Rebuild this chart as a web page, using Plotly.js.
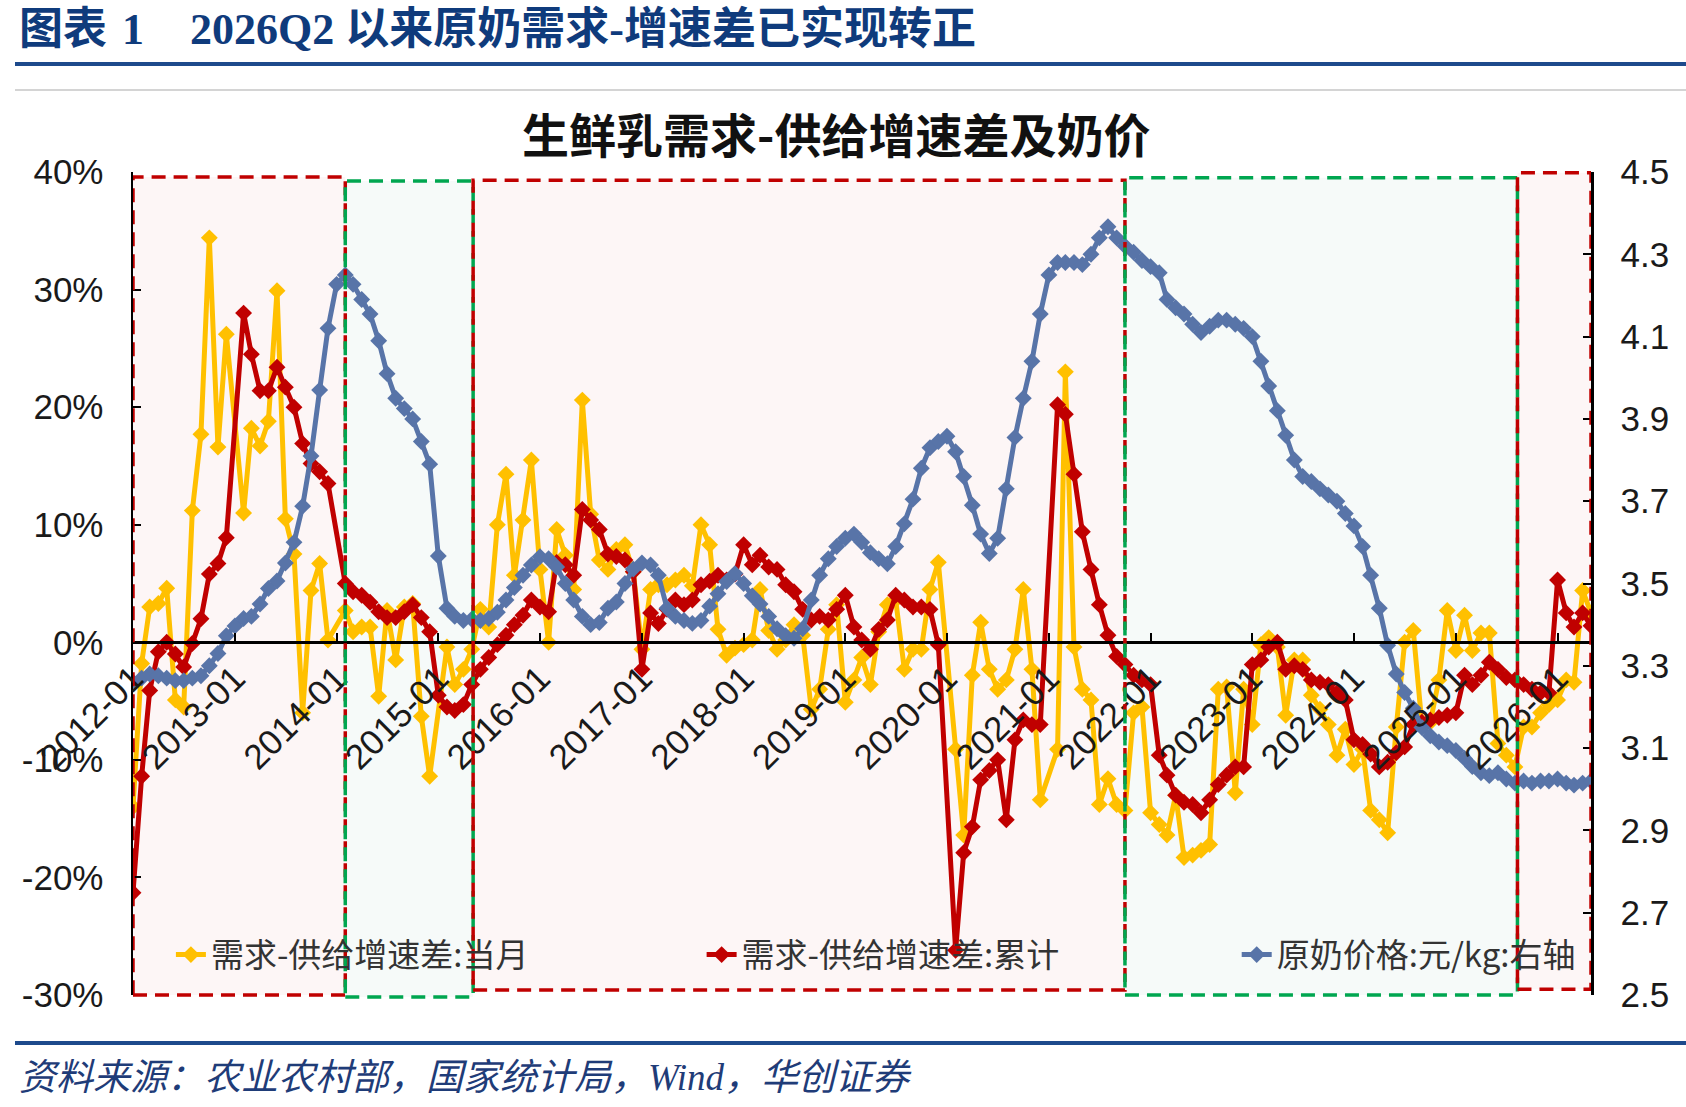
<!DOCTYPE html>
<html>
<head>
<meta charset="utf-8">
<script src="https://cdn.plot.ly/plotly-3.0.1.min.js"></script>
<style>
  html, body { margin: 0; padding: 0; background: #fff; }
  #page { position: relative; width: 1686px; height: 1107px; overflow: hidden; background: #fff; }
  #chart { position: absolute; left: 0; top: 0; width: 1686px; height: 1107px; }
  .head { position: absolute; top: 5px; font-family: "Liberation Serif", "Noto Sans CJK SC", serif; font-weight: bold; font-size: 44px; color: #0f3b7c; line-height: 50px; white-space: nowrap; }
  .rule { position: absolute; left: 15px; right: 0; }
  #source { position: absolute; left: 19px; top: 1054px; font-family: "Liberation Serif", "Noto Sans CJK SC", serif; font-style: italic; font-size: 37px; color: #1f3c78; line-height: 48px; white-space: nowrap; }
</style>
</head>
<body>
<div id="page">
  <div id="chart"></div>
  <div class="head" style="left:19px">图表</div>
  <div class="head" style="left:122px">1</div>
  <div class="head" style="left:190px">2026Q2 以来原奶需求-增速差已实现转正</div>
  <div class="rule" style="top:62px;height:4px;background:#1d4a8c"></div>
  <div class="rule" style="top:89px;height:2px;background:#d4d4d4"></div>
  <div class="rule" style="top:1041px;height:4px;background:#1d4a8c"></div>
  <div id="source">资料来源：农业农村部，国家统计局，Wind，华创证券</div>
</div>
<script>
// 需求-供给增速差:当月 (%), monthly from 2012-01
const monthlyGap = [
  -14.0, -1.8, 3.0, 3.3, 4.6, -4.9, -5.5, 11.2, 17.7, 34.4, 16.6, 26.2,      // 2012
  null, 11.0, 18.2, 16.7, 18.8, 29.9, 10.5, 7.5, -6.0, 4.4, 6.7, 0.2,        // 2013
  null, 2.7, 0.9, 1.3, 1.3, -4.6, 2.7, -1.5, 3.0, 3.3, -6.3, -11.4,          // 2014
  null, -0.4, -3.6, -2.3, -0.6, 2.8, 1.3, 10.0, 14.3, 5.7, 10.4, 15.5,       // 2015
  6.2, 0.0, 9.6, 7.4, 4.5, 20.6, 10.9, 7.0, 6.2, 7.9, 8.3, 6.0,              // 2016
  -0.6, 4.5, 4.9, 4.9, 5.3, 5.7, 4.8, 10.0, 8.3, 1.1, -1.1, -0.5,            // 2017
  -0.2, 0.2, 4.5, 1.0, -0.6, 0.2, 1.5, 0.6, -5.7, -4.0, 1.1, 3.2,            // 2018
  -5.1, -3.2, -1.3, -3.6, 0.9, 3.2, 3.6, -2.3, -0.6, -0.6, 4.5, 6.8,         // 2019
  null, -9.1, -16.4, -2.8, 1.7, -2.3, -4.0, -3.2, -0.6, 4.5, -2.3, -13.4,    // 2020
  null, -9.1, 23.0, -0.4, -4.0, -4.9, -13.8, -11.6, -13.8, -14.3, -6.0, -5.5, // 2021
  -14.5, -15.5, -16.4, -13.0, -18.3, -18.1, -17.7, -17.2, -4.0, -3.8, -12.8, -4.0, // 2022
  -7.0, -0.2, 0.4, -0.4, -6.2, -1.5, -1.5, -4.5, -5.7, -7.0, -9.6, -7.4,     // 2023
  -10.4, -9.1, -14.3, -15.1, -16.2, -7.2, 0.0, 1.0, -7.0, -6.8, -3.2, 2.7,   // 2024
  -0.7, 2.3, -0.7, 0.8, 0.8, -8.6, -9.6, -10.6, -7.2, -7.2, -6.0, -5.3,      // 2025
  -4.9, -3.2, -3.4, 4.4, 2.5                                                  // 2026
];

// 需求-供给增速差:累计 (%)
const cumulativeGap = [
  -21.3, -11.4, -4.1, -0.8, 0.0, -1.0, -2.1, -0.1, 2.0, 5.8, 6.7, 8.9,       // 2012
  null, 28.0, 24.5, 21.4, 21.4, 23.4, 21.7, 20.0, 16.9, 15.2, 14.5, 13.5,    // 2013
  null, 5.0, 4.3, 4.0, 3.4, 2.6, 2.1, 2.1, 2.6, 3.2, 2.1, 0.9,               // 2014
  -4.5, -5.5, -5.8, -5.3, -3.6, -2.3, -1.3, -0.2, 0.6, 1.5, 2.3, 3.6,        // 2015
  3.0, 2.6, 6.8, 6.6, 5.7, 11.3, 10.4, 9.6, 7.5, 7.3, 7.0, 6.0,              // 2016
  -2.3, 2.5, 1.6, 2.8, 3.6, 3.2, 3.6, 4.9, 5.2, 5.7, 5.3, 5.8,               // 2017
  8.3, 6.6, 7.4, 6.4, 6.2, 4.9, 4.3, 2.8, 1.9, 2.2, 1.9, 2.8,                // 2018
  4.0, 1.3, 0.2, -0.6, 1.1, 1.9, 4.0, 3.6, 3.0, 3.0, 2.8, -0.2,              // 2019
  null, -26.2, -17.9, -15.7, -11.7, -10.9, -10.0, -15.1, -8.3, -6.6, -7.0, -7.0, // 2020
  null, 20.2, 19.4, 14.3, 9.4, 6.2, 3.2, 0.6, -1.2, -1.9, -2.8, -3.2,        // 2021
  -3.6, -9.6, -11.3, -13.0, -13.6, -13.8, -14.5, -13.4, -12.1, -11.3, -10.6, -10.6, // 2022
  -1.9, -1.5, -0.4, 0.0, -2.3, -2.0, -2.3, -3.2, -3.4, -3.6, -4.3, -4.9,     // 2023
  -8.3, -8.7, -9.5, -10.6, -10.2, -9.4, -8.9, -7.0, -6.8, -6.6, -6.4, -6.2,  // 2024
  -6.0, -2.8, -3.6, -2.8, -1.7, -2.3, -3.0, -3.2, -3.6, -4.0, -4.3, -4.3,    // 2025
  5.3, 2.5, 1.3, 2.5, 1.4                                                     // 2026
];

// 原奶价格:元/kg (右轴)
const milkPrice = [
  3.26, 3.27, 3.28, 3.276, 3.27, 3.264, 3.264, 3.27, 3.276, 3.30, 3.33, 3.373,   // 2012
  3.397, 3.415, 3.42, 3.45, 3.488, 3.506, 3.55, 3.60, 3.688, 3.81, 3.97, 4.12,   // 2013
  4.227, 4.25, 4.227, 4.19, 4.155, 4.09, 4.01, 3.95, 3.925, 3.90, 3.845, 3.79,   // 2014
  3.567, 3.44, 3.42, 3.41, 3.413, 3.41, 3.415, 3.43, 3.46, 3.49, 3.52, 3.545,    // 2015
  3.565, 3.56, 3.54, 3.50, 3.46, 3.42, 3.40, 3.405, 3.44, 3.455, 3.50, 3.535,    // 2016
  3.55, 3.545, 3.52, 3.44, 3.42, 3.41, 3.403, 3.41, 3.445, 3.475, 3.505, 3.524,  // 2017
  3.50, 3.47, 3.45, 3.42, 3.39, 3.373, 3.367, 3.39, 3.46, 3.52, 3.56, 3.59,      // 2018
  3.61, 3.62, 3.60, 3.575, 3.56, 3.548, 3.59, 3.645, 3.705, 3.78, 3.83, 3.845,   // 2019
  3.858, 3.82, 3.76, 3.69, 3.62, 3.573, 3.61, 3.73, 3.855, 3.95, 4.04, 4.155,    // 2020
  4.25, 4.28, 4.28, 4.28, 4.275, 4.30, 4.34, 4.367, 4.34, 4.32, 4.305, 4.285,    // 2021
  4.27, 4.255, 4.19, 4.17, 4.155, 4.13, 4.11, 4.125, 4.14, 4.14, 4.13, 4.12,     // 2022
  4.10, 4.04, 3.98, 3.92, 3.86, 3.80, 3.76, 3.748, 3.73, 3.715, 3.70, 3.67,      // 2023
  3.64, 3.59, 3.52, 3.44, 3.35, 3.28, 3.235, 3.197, 3.15, 3.13, 3.115, 3.106,    // 2024
  3.094, 3.075, 3.055, 3.04, 3.033, 3.04, 3.025, 3.015, 3.02, 3.015, 3.02, 3.02, // 2025
  3.025, 3.015, 3.01, 3.015, 3.02                                                 // 2026
];

const tickLabels = ['2012-01', '2013-01', '2014-01', '2015-01', '2016-01', '2017-01', '2018-01',
  '2019-01', '2020-01', '2021-01', '2022-01', '2023-01', '2024-01', '2025-01', '2026-01'];
const leftTicks = [-30, -20, -10, 0, 10, 20, 30, 40];
const rightTicks = [2.5, 2.7, 2.9, 3.1, 3.3, 3.5, 3.7, 3.9, 4.1, 4.3, 4.5];

const seriesNames = ['需求-供给增速差:当月', '需求-供给增速差:累计', '原奶价格:元/kg:右轴'];

// month dates for the category axis
const months = milkPrice.map((_, i) => {
  const y = 2012 + Math.floor(i / 12);
  const m = (i % 12) + 1;
  return y + '-' + String(m).padStart(2, '0') + '-01';
});

const YELLOW = '#ffc000', RED = '#c00000', BLUE = '#5874a8';

function lineTrace(name, y, color, legend, yaxis) {
  return {
    type: 'scatter', mode: 'lines+markers', name: name,
    x: months, y: y, yaxis: yaxis, legend: legend,
    connectgaps: true,
    line: {color: color, width: 5},
    marker: {symbol: 'diamond', size: 13, color: color}
  };
}

const data = [
  lineTrace(seriesNames[0], monthlyGap, YELLOW, 'legend', 'y'),
  lineTrace(seriesNames[1], cumulativeGap, RED, 'legend2', 'y'),
  lineTrace(seriesNames[2], milkPrice, BLUE, 'legend3', 'y2')
];

// shaded periods: [start, end, kind, top, bottom] (top/bottom in paper units)
const periods = [
  ['2012-01-01', '2014-02-01', 'red', 0.994, 0.0],
  ['2014-02-01', '2015-05-06', 'green', 0.989, -0.0025],
  ['2015-05-06', '2021-10-01', 'red', 0.990, 0.006],
  ['2021-10-01', '2025-08-10', 'green', 0.993, 0.0],
  ['2025-08-10', '2026-05-01', 'red', 0.999, 0.007]
];

const shapes = [];
periods.forEach(p => {
  const isRed = p[2] === 'red';
  shapes.push({
    type: 'rect', xref: 'x', yref: 'paper', x0: p[0], x1: p[1], y0: p[4], y1: p[3],
    fillcolor: isRed ? '#fdf6f6' : '#f6faf9', line: {width: 0}, layer: 'below'
  });
});
periods.forEach(p => {
  const isRed = p[2] === 'red';
  shapes.push({
    type: 'rect', xref: 'x', yref: 'paper', x0: p[0], x1: p[1], y0: p[4], y1: p[3],
    fillcolor: 'rgba(0,0,0,0)', layer: 'above',
    line: {color: isRed ? '#c00000' : '#00a650', width: 3.5, dash: '14px,8px'}
  });
});

const tickFont = {family: 'Liberation Sans, Arial, sans-serif', size: 35, color: '#1a1a1a'};
const legendBase = {
  orientation: 'h', yanchor: 'middle', xanchor: 'left', y: 0.049,
  bgcolor: 'rgba(0,0,0,0)', borderwidth: 0,
  font: {family: 'Noto Sans CJK SC, sans-serif', size: 33, color: '#333'}
};

const layout = {
  width: 1686, height: 1107,
  margin: {l: 133, r: 95, t: 172, b: 112, pad: 0},
  paper_bgcolor: 'rgba(0,0,0,0)', plot_bgcolor: 'rgba(0,0,0,0)',
  font: {family: 'Liberation Sans, Noto Sans CJK SC, sans-serif', color: '#1a1a1a'},
  showlegend: true,
  legend: Object.assign({}, legendBase, {x: 0.026}),
  legend2: Object.assign({}, legendBase, {x: 0.39}),
  legend3: Object.assign({}, legendBase, {x: 0.757}),
  xaxis: {
    type: 'date', range: ['2012-01-01', '2026-05-01'],
    anchor: 'free', position: 30 / 70,
    tickvals: tickLabels.map(t => t + '-01'), ticktext: tickLabels,
    tickangle: -45, tickfont: tickFont,
    ticks: 'inside', ticklen: 8, tickwidth: 2, tickcolor: '#000',
    showline: true, linecolor: '#000', linewidth: 2.5,
    showgrid: false, zeroline: false, fixedrange: true
  },
  yaxis: {
    range: [-30, 40], tickvals: leftTicks, ticktext: leftTicks.map(v => v + '%'),
    tickfont: tickFont,
    ticks: 'inside', ticklen: 8, tickwidth: 2, tickcolor: '#000',
    ticklabelstandoff: 20,
    showline: true, linecolor: '#000', linewidth: 2.5,
    showgrid: false, zeroline: false
  },
  yaxis2: {
    range: [2.5, 4.5], tickvals: rightTicks, ticktext: rightTicks.map(v => v.toFixed(1)),
    tickfont: tickFont,
    overlaying: 'y', side: 'right', anchor: 'x',
    ticks: 'inside', ticklen: 8, tickwidth: 2, tickcolor: '#000',
    ticklabelstandoff: 20,
    showline: true, linecolor: '#000', linewidth: 2.5,
    showgrid: false, zeroline: false
  },
  shapes: shapes,
  annotations: [{
    text: '生鲜乳需求-供给增速差及奶价', xref: 'paper', yref: 'paper',
    x: 0.482, y: 1.0486, xanchor: 'center', yanchor: 'middle', showarrow: false,
    font: {family: 'Noto Sans CJK SC, sans-serif', size: 47, weight: 'bold', color: '#111'}
  }]
};

Plotly.newPlot('chart', data, layout, {displayModeBar: false, staticPlot: true});
</script>
</body>
</html>
